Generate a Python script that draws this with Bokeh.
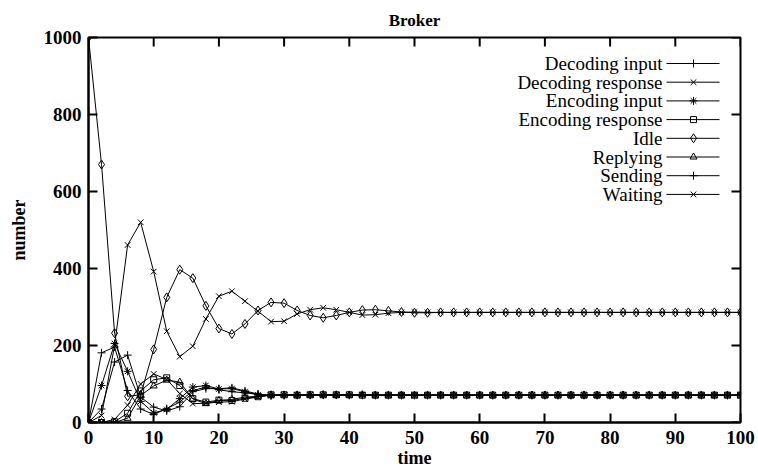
from bokeh.plotting import figure
from bokeh.models import Range1d, FixedTicker, ColumnDataSource
from bokeh.core.properties import value
from bokeh.embed import file_html
from bokeh.resources import INLINE

# Broker state populations over time (sampled every 2 time units)
time = list(range(0, 101, 2))

decoding_input = [0, 181, 196, 83, 35, 21, 36, 53, 83, 92, 85, 80, 77, 73, 71, 70, 71, 71, 72, 72, 72, 71, 71, 71, 71, 71,
                  71, 71, 71, 71, 71, 71, 71, 71, 71, 71, 71, 71, 71, 71, 71, 71, 71, 71, 71, 71, 71, 71, 71, 71, 71]
decoding_response = [0, 0, 8, 45, 100, 126, 112, 75, 49, 50, 53, 54, 61, 66, 71, 71, 71, 72, 71, 71, 71, 72, 71, 71, 71, 71,
                     71, 71, 71, 71, 71, 71, 71, 71, 71, 71, 71, 71, 71, 71, 71, 71, 71, 71, 71, 71, 71, 71, 71, 71, 71]
encoding_input = [0, 96, 205, 133, 55, 25, 34, 62, 92, 96, 87, 88, 80, 72, 70, 71, 72, 72, 71, 72, 71, 72, 71, 71, 71, 71,
                  71, 71, 71, 71, 71, 71, 71, 71, 71, 71, 71, 71, 71, 71, 71, 71, 71, 71, 71, 71, 71, 71, 71, 71, 71]
encoding_response = [0, 0, 2, 24, 82, 111, 116, 96, 62, 53, 58, 57, 63, 67, 72, 72, 71, 72, 72, 72, 72, 71, 71, 71, 71, 71,
                     71, 71, 71, 71, 71, 71, 71, 71, 71, 71, 71, 71, 71, 71, 71, 71, 71, 71, 71, 71, 71, 71, 71, 71, 71]
idle = [1000, 670, 232, 68, 72, 190, 325, 397, 375, 303, 244, 230, 256, 291, 312, 310, 291, 278, 272, 278, 286, 292, 293, 290, 287, 285,
        285, 286, 286, 286, 286, 286, 286, 286, 286, 286, 286, 286, 286, 286, 286, 286, 286, 286, 286, 286, 286, 286, 286, 286, 286]
replying = [0, 0, 0, 11, 70, 95, 110, 105, 61, 49, 57, 60, 66, 68, 72, 71, 71, 71, 72, 71, 71, 72, 71, 71, 71, 71,
            71, 71, 71, 71, 71, 71, 71, 71, 71, 71, 71, 71, 71, 71, 71, 71, 71, 71, 71, 71, 71, 71, 71, 71, 71]
sending = [0, 35, 157, 175, 66, 40, 30, 41, 80, 88, 88, 90, 82, 74, 70, 72, 71, 71, 72, 71, 71, 71, 71, 71, 71, 71,
           71, 71, 71, 71, 71, 71, 71, 71, 71, 71, 71, 71, 71, 71, 71, 71, 71, 71, 71, 71, 71, 71, 71, 71, 71]
waiting = [0, 18, 200, 461, 520, 392, 237, 171, 198, 269, 328, 341, 315, 289, 262, 263, 282, 293, 298, 293, 286, 279, 280, 284, 286, 287,
           286, 286, 286, 286, 286, 286, 286, 286, 286, 286, 286, 286, 286, 286, 286, 286, 286, 286, 286, 286, 286, 286, 286, 286, 286]

series_names = ["Decoding input", "Decoding response", "Encoding input", "Encoding response",
                "Idle", "Replying", "Sending", "Waiting"]
series_values = [decoding_input, decoding_response, encoding_input, encoding_response,
                 idle, replying, sending, waiting]

x_ticks = [0, 10, 20, 30, 40, 50, 60, 70, 80, 90, 100]
y_ticks = [0, 200, 400, 600, 800, 1000]

# marker style per series
series_markers = ["cross", "x", "asterisk", "square", "diamond", "triangle", "cross", "x"]
marker_sizes = [8, 8, 8, 6, 9, 7, 8, 8]

SERIF = "Liberation Serif"
W, H = 758, 472
LEFT, RIGHT, TOP, BOTTOM = 88, 18, 37, 50
PW, PH = W - LEFT - RIGHT, H - TOP - BOTTOM
TICK_PX = 9

p = figure(width=W, height=H, x_range=Range1d(0, 100), y_range=Range1d(0, 1000),
           output_backend="svg", toolbar_location=None,
           min_border_left=LEFT, min_border_right=RIGHT,
           min_border_top=TOP, min_border_bottom=BOTTOM,
           title="Broker")
p.title.text_font = SERIF
p.title.text_font_style = "bold"
p.title.text_font_size = "17px"
p.title.text_color = "black"
p.title.align = "center"
p.title.standoff = 16
p.outline_line_color = "black"
p.outline_line_width = 2
p.xgrid.grid_line_color = None
p.ygrid.grid_line_color = None
p.background_fill_color = "white"
p.border_fill_color = "white"


def style_axis(ax, ticks):
    ax.ticker = FixedTicker(ticks=ticks)
    ax.axis_line_width = 2
    ax.axis_line_color = "black"
    ax.major_tick_in = TICK_PX
    ax.major_tick_out = 0
    ax.major_tick_line_width = 2
    ax.major_tick_line_color = "black"
    ax.minor_tick_line_color = None
    ax.major_label_text_font = SERIF
    ax.major_label_text_font_style = "bold"
    ax.major_label_text_font_size = "19px"
    ax.major_label_text_color = "black"
    ax.axis_label_text_font = SERIF
    ax.axis_label_text_font_style = "bold"
    ax.axis_label_text_font_size = "18px"
    ax.axis_label_text_color = "black"


style_axis(p.xaxis[0], x_ticks)
style_axis(p.yaxis[0], y_ticks)
p.xaxis.axis_label = "time"
p.yaxis.axis_label = "number"
p.xaxis.major_label_standoff = 8
p.yaxis.major_label_standoff = 7
p.xaxis.axis_label_standoff = 1
p.yaxis.axis_label_standoff = 12


def px_to_x(px):
    return (px - LEFT) / PW * 100.0


def px_to_y(py):
    return (H - BOTTOM - py) / PH * 1000.0


# mirrored ticks on the top and right borders
dx_tick = TICK_PX / PW * 100.0
dy_tick = TICK_PX / PH * 1000.0
p.segment(x0=x_ticks, x1=x_ticks, y0=[1000] * len(x_ticks), y1=[1000 - dy_tick] * len(x_ticks),
          line_color="black", line_width=2)
p.segment(x0=[100] * len(y_ticks), x1=[100 - dx_tick] * len(y_ticks), y0=y_ticks, y1=y_ticks,
          line_color="black", line_width=2)

for name, vals, mk, ms in zip(series_names, series_values, series_markers, marker_sizes):
    src = ColumnDataSource(dict(t=time, n=vals))
    p.line("t", "n", source=src, line_color="black", line_width=1)
    p.scatter("t", "n", source=src, marker=mk, size=ms, line_color="black",
              fill_color=None, line_width=1)

# key in the upper right: right-aligned labels followed by a line sample
key_rows = [px_to_y(63 + i * 18.7) for i in range(len(series_names))]
key_src = ColumnDataSource(dict(
    tx=[px_to_x(662)] * len(series_names),
    x0=[px_to_x(666)] * len(series_names),
    x1=[px_to_x(719)] * len(series_names),
    mx=[px_to_x(693)] * len(series_names),
    y=key_rows,
    label=series_names,
    marker=series_markers,
    size=marker_sizes,
))
p.text(x="tx", y="y", text="label", source=key_src, text_align="right",
       text_baseline="middle", text_font=value(SERIF), text_font_size="19px",
       text_color="black")
p.segment(x0="x0", y0="y", x1="x1", y1="y", source=key_src, line_color="black", line_width=1)
p.scatter(x="mx", y="y", marker="marker", size="size", source=key_src,
          line_color="black", fill_color=None, line_width=1)

open("out.html", "w").write(file_html(p, INLINE))
